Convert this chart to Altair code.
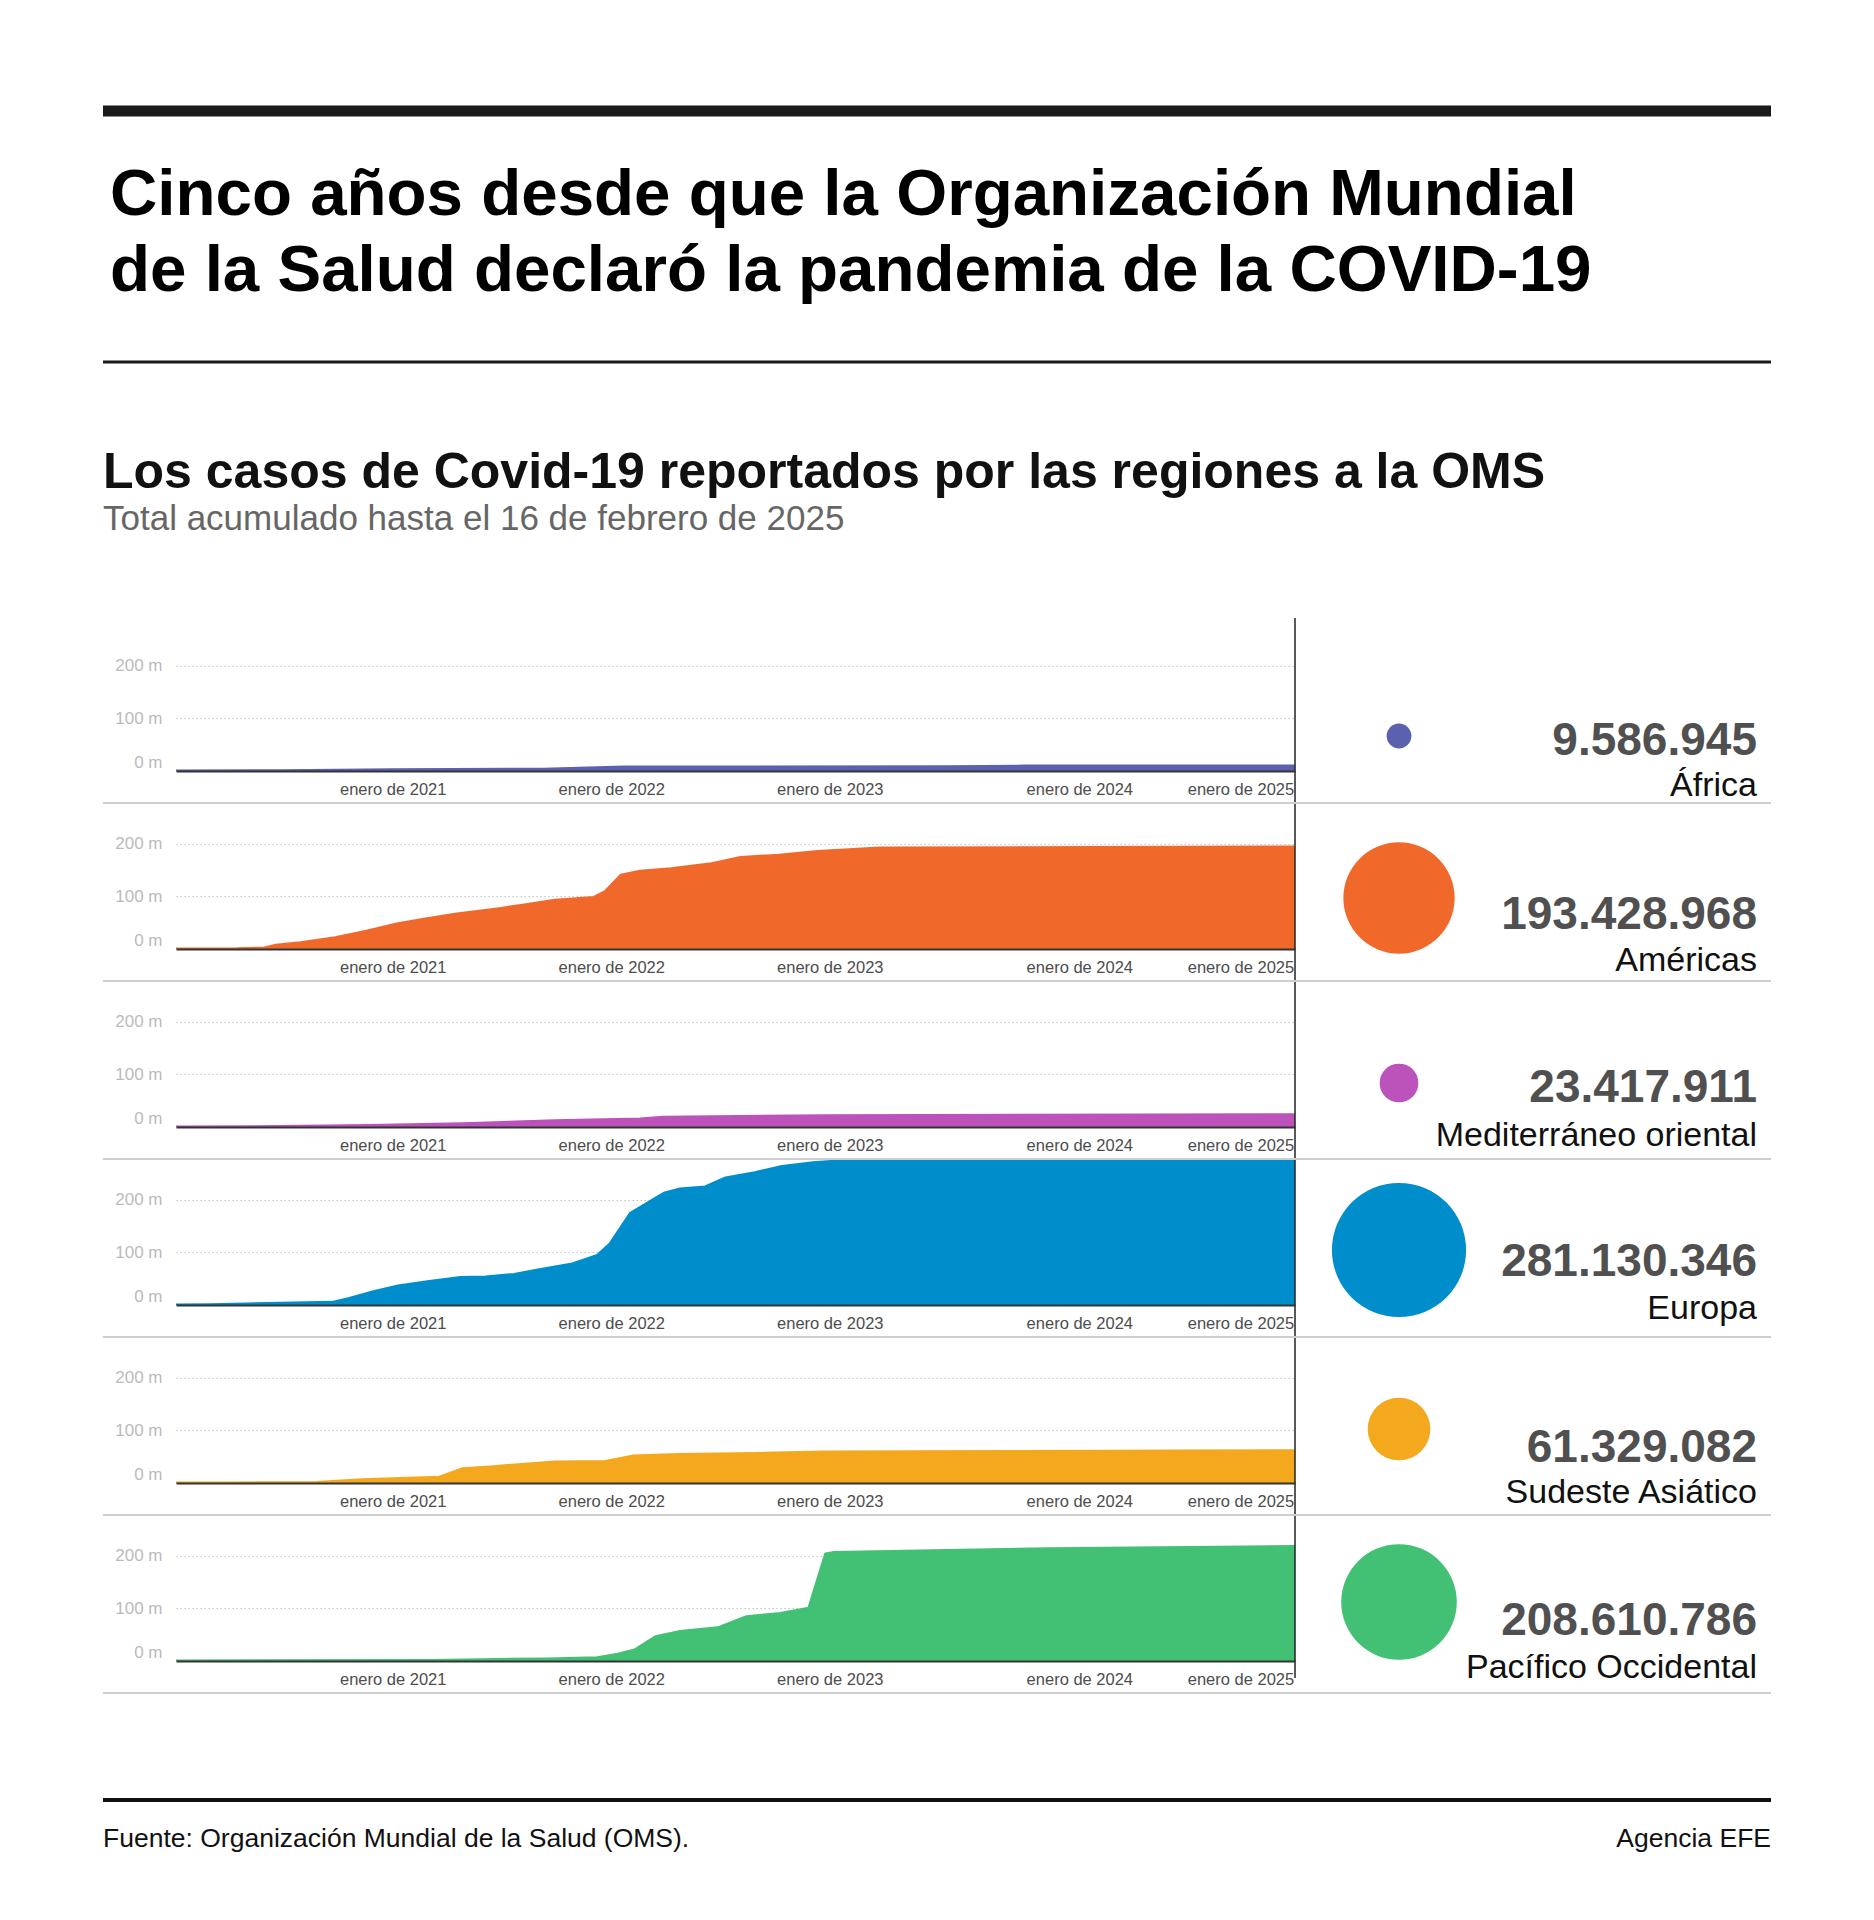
import altair as alt
import pandas as pd

# ---------------- texts ----------------
TITLE_LINES = ["Cinco años desde que la Organización Mundial",
               "de la Salud declaró la pandemia de la COVID-19"]
SUBTITLE = "Los casos de Covid-19 reportados por las regiones a la OMS"
NOTE = "Total acumulado hasta el 16 de febrero de 2025"
SOURCE = "Fuente: Organización Mundial de la Salud (OMS)."
CREDIT = "Agencia EFE"

# ---------------- data ----------------
REGIONS = ["África", "Américas", "Mediterráneo oriental", "Europa",
           "Sudeste Asiático", "Pacífico Occidental"]
TOTALS = [9586945, 193428968, 23417911, 281130346, 61329082, 208610786]
COLORS = ["#5b61ae", "#f1682b", "#bc53bb", "#008dcb", "#f4a81d", "#42c073"]

AFRICA_DATES = ["2020-01-05", "2020-07-01", "2021-01-01", "2021-09-09", "2022-01-23",
                "2023-07-19", "2023-11-25", "2025-02-16"]
AFRICA_CASES = [0, 0.6, 2.3, 3.5, 7.5, 7.9, 9.4, 9.59]

AMERICAS_DATES = ["2020-01-05", "2020-04-15", "2020-06-01", "2020-06-20", "2020-07-31",
                  "2020-09-27", "2020-11-18", "2021-01-08", "2021-02-22", "2021-04-15",
                  "2021-07-01", "2021-08-03", "2021-09-29", "2021-12-03", "2021-12-22",
                  "2022-01-17", "2022-02-18", "2022-04-11", "2022-06-14", "2022-08-05",
                  "2022-10-08", "2022-12-12", "2023-03-25", "2025-02-16"]
AMERICAS_CASES = [0, 0.3, 2, 7, 11.7, 21.6, 33.9, 47.4, 56.6, 65.8,
                  77, 82.5, 92.3, 97.9, 109, 139.8, 147.7, 152, 161, 173.6,
                  178, 184.7, 191.5, 193.4]

MED_DATES = ["2020-01-05", "2020-05-16", "2020-11-24", "2021-04-28", "2021-09-29",
             "2022-02-18", "2022-03-29", "2022-12-25", "2025-02-16"]
MED_CASES = [0, 0.5, 3, 6, 12, 15, 18.5, 21.5, 23.4]

EUROPE_DATES = ["2020-01-05", "2020-03-01", "2020-05-01", "2020-09-22", "2020-10-19",
                "2020-11-30", "2021-01-10", "2021-02-28", "2021-04-24", "2021-06-05",
                "2021-07-23", "2021-09-03", "2021-10-28", "2021-12-09", "2021-12-30",
                "2022-02-02", "2022-03-02", "2022-03-30", "2022-04-26", "2022-06-07",
                "2022-07-11", "2022-08-29", "2022-10-10", "2022-12-04", "2023-01-28",
                "2023-04-08", "2023-11-01", "2025-02-16"]
EUROPE_CASES = [0, 0.5, 2, 5, 12, 25, 36, 44, 52, 53,
                58, 67, 78, 94, 116, 174, 193, 212, 220, 224,
                241, 251, 262, 270, 274, 277, 279.5, 281.13]

SEA_DATES = ["2020-01-05", "2020-04-01", "2020-08-26", "2020-11-11", "2021-03-20",
             "2021-04-28", "2021-06-18", "2021-09-29", "2021-12-22", "2022-02-05",
             "2022-04-24", "2022-08-30", "2022-12-25", "2025-02-16"]
SEA_CASES = [0, 0.1, 1, 6, 11, 27, 31, 40, 41, 51, 54, 56, 59, 61.3]

WP_DATES = ["2020-01-05", "2021-03-07", "2021-06-26", "2021-09-15", "2021-12-09",
            "2022-01-12", "2022-02-09", "2022-03-16", "2022-04-26", "2022-06-28",
            "2022-08-15", "2022-10-10", "2022-11-27", "2022-12-25", "2023-01-08",
            "2024-01-01", "2025-02-16"]
WP_CASES = [0, 1, 3, 4, 6, 13, 21, 46, 56, 63, 84, 90, 100, 203, 206, 213, 217]

SERIES = [(AFRICA_DATES, AFRICA_CASES), (AMERICAS_DATES, AMERICAS_CASES),
          (MED_DATES, MED_CASES), (EUROPE_DATES, EUROPE_CASES),
          (SEA_DATES, SEA_CASES), (WP_DATES, WP_CASES)]

YEAR_TICKS = [2021, 2022, 2023, 2024, 2025]
Y_TICKS = [0, 100, 200]

# ---------------- layout / style ----------------
FONT = "Liberation Sans"
LEFT = 73          # distance from page margin to plot area
PLOT_W = 1119
PLOT_H = 145
ROW_H = 178
RIGHT = 1595       # right edge of rules, relative to plot origin
CIRCLE_X = 1223
TEXT_X = 1581
CIRCLE_Y = [110, 94, 101, 90, 91, 86]
NUM_Y = [129, 125, 120, 116, 124, 119]
NAME_Y = [170, 167, 164, 159, 165, 162]


def one_row_df(**kw):
    return pd.DataFrame({k: [v] for k, v in kw.items()})


def text_layer(s, x, y, size, weight="normal", color="#000000", align="left"):
    return alt.Chart(one_row_df(t=s)).mark_text(
        align=align, baseline="alphabetic", font=FONT, fontSize=size,
        fontWeight=weight, color=color
    ).encode(x=alt.value(x), y=alt.value(y), text="t:N")


def rect_layer(x1, x2, y1, y2, color):
    return alt.Chart(one_row_df(k=0)).mark_rect(color=color).encode(
        x=alt.value(x1), x2=alt.value(x2), y=alt.value(y1), y2=alt.value(y2))


# ---------------- header ----------------
header = alt.layer(
    rect_layer(-LEFT, RIGHT, 105.5, 116.5, "#1a1a1a"),
    text_layer(TITLE_LINES[0], 7 - LEFT, 215, 65.5, "bold", "#000000"),
    text_layer(TITLE_LINES[1], 7 - LEFT, 291, 65.5, "bold", "#000000"),
    rect_layer(-LEFT, RIGHT, 360.5, 363.5, "#1a1a1a"),
    text_layer(SUBTITLE, -LEFT, 488, 50, "bold", "#111111"),
    text_layer(NOTE, -LEFT, 530, 35, "normal", "#666666"),
).properties(width=PLOT_W, height=618)

# ---------------- rows ----------------
x_scale = alt.Scale(type="utc", nice=False, domain=[
    alt.DateTime(year=2020, month=1, date=5, utc=True),
    alt.DateTime(year=2025, month=2, date=16, utc=True)])
y_scale = alt.Scale(domain=[0, 275], nice=False, zero=True)
size_scale = alt.Scale(type="linear", domain=[0, max(TOTALS)], range=[0, 18000])

x_axis = alt.Axis(
    values=[alt.DateTime(year=yr, month=1, date=1, utc=True) for yr in YEAR_TICKS],
    labelExpr="'enero de ' + utcyear(datum.value)",
    grid=False, ticks=False, tickSize=0, domain=True, domainColor="#333333",
    domainWidth=2, labelPadding=18, labelBaseline="middle", labelFontSize=16.5,
    labelColor="#4d4d4d", labelFont=FONT, labelFlush=False, labelOverlap=False,
    zindex=1, title=None,
    labelOffset={"condition": [
        {"test": "utcyear(datum.value) == 2024", "value": 31},
        {"test": "utcyear(datum.value) == 2025", "value": -27}], "value": 0},
)
y_axis = alt.Axis(
    values=Y_TICKS, labelExpr="datum.value + ' m'", grid=True, gridColor="#c4c4c4",
    gridDash=[1.5, 2.5], gridWidth=1, domain=False, ticks=False, tickSize=0,
    labelPadding=14, labelFontSize=17, labelColor="#bbbbbb", labelFont=FONT,
    labelFlush=True, zindex=0, title=None,
)

rows = []
n = len(REGIONS)
for i in range(n):
    dates, cases = SERIES[i]
    df = pd.DataFrame({"fecha": dates, "casos": cases})
    info = pd.DataFrame({"region": [REGIONS[i]], "total": [TOTALS[i]]})
    color = COLORS[i]
    x = alt.X("fecha:T", scale=x_scale, axis=x_axis)
    y = alt.Y("casos:Q", scale=y_scale, axis=y_axis)
    base = alt.Chart(df)
    area = base.mark_area(color=color, opacity=1, clip=True).encode(x=x, y=y)
    line = base.mark_line(color=color, strokeWidth=3, clip=True,
                          strokeJoin="round").encode(x=x, y=y)
    circ = alt.Chart(info).mark_circle(color=color, opacity=1).encode(
        x=alt.value(CIRCLE_X), y=alt.value(CIRCLE_Y[i]),
        size=alt.Size("total:Q", scale=size_scale, legend=None))
    num = alt.Chart(info).mark_text(
        align="right", baseline="alphabetic", font=FONT, fontSize=46,
        fontWeight="bold", color="#505050"
    ).encode(x=alt.value(TEXT_X), y=alt.value(NUM_Y[i]),
             text=alt.Text("total:Q", format=","))
    name = alt.Chart(info).mark_text(
        align="right", baseline="alphabetic", font=FONT, fontSize=34, color="#111111"
    ).encode(x=alt.value(TEXT_X), y=alt.value(NAME_Y[i]), text="region:N")
    sep = alt.Chart(info).mark_rect(color="#cfcfcf").encode(
        x=alt.value(-LEFT), x2=alt.value(RIGHT), y=alt.value(ROW_H - 2), y2=alt.value(ROW_H))
    vtop = -8 if i == 0 else 0
    vbot = 162 if i == n - 1 else ROW_H
    vline = alt.Chart(info).mark_rect(color="#222222").encode(
        x=alt.value(PLOT_W - 0.75), x2=alt.value(PLOT_W + 0.75),
        y=alt.value(vtop), y2=alt.value(vbot))
    row = alt.layer(area, line, vline, sep, circ, num, name).properties(
        width=PLOT_W, height=PLOT_H)
    rows.append(row)

# ---------------- footer ----------------
footer = alt.layer(
    rect_layer(-LEFT, RIGHT, 104, 108, "#111111"),
    text_layer(SOURCE, -LEFT, 153, 26.5, "normal", "#111111"),
    text_layer(CREDIT, RIGHT, 153, 26.5, "normal", "#111111", align="right"),
).properties(width=PLOT_W, height=175)

chart = alt.vconcat(header, *rows, footer, spacing=0).properties(
    padding={"left": 103, "top": 0, "right": 0, "bottom": 0},
    background="white",
).configure(
    locale={"number": {"decimal": ",", "thousands": ".", "grouping": [3],
                       "currency": ["", " €"]}}
).configure_view(stroke=None)

chart.save("out.html", embed_options={"renderer": "svg", "actions": False})
